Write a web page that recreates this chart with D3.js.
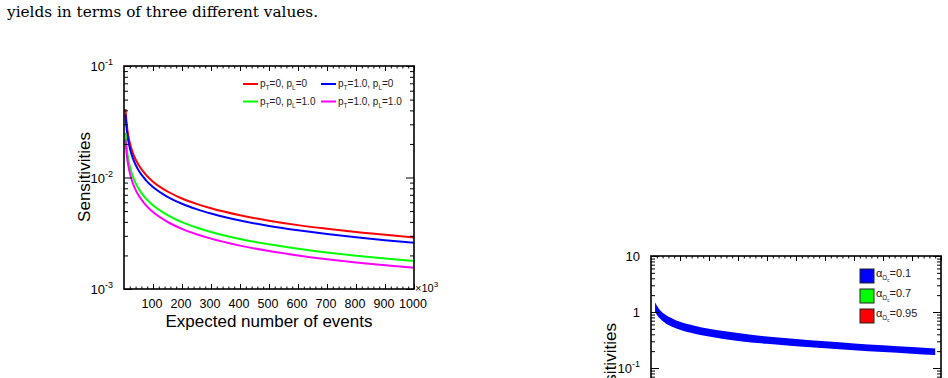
<!DOCTYPE html>
<html>
<head>
<meta charset="utf-8">
<script src="https://cdn.jsdelivr.net/npm/d3@7"></script>
<style>
  body { margin: 0; background: #fff; }
  svg { display: block; font-family: "Liberation Sans", Arial, sans-serif; }
</style>
</head>
<body>
<svg id="chart" width="948" height="378"></svg>
<script>
// expected number of events (in units of 10^3)
const events = [5, 10, 15, 20, 30, 40, 50, 75, 100, 150, 200, 250, 300, 400, 500, 600, 700, 800, 900, 1000];

// sensitivities
const sensT0L0 = [0.0410, 0.0290, 0.0237, 0.0205, 0.0167, 0.0145, 0.0130, 0.0106, 0.00917, 0.00749, 0.00648, 0.00580, 0.00529, 0.00458, 0.00410, 0.00374, 0.00347, 0.00324, 0.00306, 0.00290];
const sensT1L0 = [0.0368, 0.0260, 0.0212, 0.0184, 0.0150, 0.0130, 0.0116, 0.00949, 0.00822, 0.00671, 0.00581, 0.00520, 0.00475, 0.00411, 0.00368, 0.00336, 0.00311, 0.00291, 0.00274, 0.00260];
const sensT0L1 = [0.0252, 0.0178, 0.0145, 0.0126, 0.0103, 0.00890, 0.00796, 0.00650, 0.00563, 0.00460, 0.00398, 0.00356, 0.00325, 0.00281, 0.00252, 0.00230, 0.00213, 0.00199, 0.00188, 0.00178];
const sensT1L1 = [0.0219, 0.0155, 0.0127, 0.0110, 0.00895, 0.00775, 0.00693, 0.00566, 0.00490, 0.00400, 0.00346, 0.00310, 0.00283, 0.00245, 0.00219, 0.00200, 0.00185, 0.00173, 0.00163, 0.00155];

const seriesNames = [["0", "0"], ["1.0", "0"], ["0", "1.0"], ["1.0", "1.0"]];
const seriesColors = ["#ff0000", "#0000ff", "#00ff00", "#ff00ff"];

// right plot: band of the alpha = 0.1 case
const bandEvents = [14, 20, 30, 50, 75, 100, 150, 200, 300, 400, 500, 600, 700, 800, 900, 980];
const bandUpper = [1.50, 1.30, 1.10, 0.89, 0.76, 0.67, 0.57, 0.50, 0.42, 0.365, 0.33, 0.30, 0.275, 0.255, 0.237, 0.224];
const bandLower = [1.00, 0.89, 0.77, 0.63, 0.54, 0.48, 0.41, 0.365, 0.305, 0.27, 0.245, 0.225, 0.208, 0.193, 0.18, 0.17];

const alphaNames = ["0.1", "0.7", "0.95"];
const alphaColors = ["#0000ff", "#00ff00", "#ff0000"];

// tick values
const xMajor = d3.range(100, 1001, 100);
const xMinor = d3.range(20, 1000, 20).filter(v => v % 100 !== 0);
const xLabels = d3.range(100, 1001, 100);

const svg = d3.select("#chart");

// text line above the figures
svg.append("text")
    .attr("x", 7)
    .attr("y", 17)
    .attr("font-family", "'DejaVu Serif', 'Liberation Serif', serif")
    .attr("font-size", 14)
    .attr("textLength", 311)
    .attr("lengthAdjust", "spacingAndGlyphs")
    .text("yields in terms of three different values.");

function logMinors(lo, hi) {
    const out = [];
    for (let e = Math.log10(lo); e < Math.log10(hi); e++) {
        for (let k = 2; k <= 9; k++) out.push(k * Math.pow(10, e));
    }
    return out;
}

// draws a frame with inward ticks on all four sides
function drawFrame(g, x, y, yMajor, yMinor) {
    const [x0, x1] = x.range();
    const [y1, y0] = y.range();

    const axes = [
        [d3.axisBottom(x), `translate(0,${y1})`, xMajor, xMinor, 5, 2.5],
        [d3.axisTop(x), `translate(0,${y0})`, xMajor, xMinor, 5, 2.5],
        [d3.axisLeft(y), `translate(${x0},0)`, yMajor, yMinor, 8, 4],
        [d3.axisRight(y), `translate(${x1},0)`, yMajor, yMinor, 8, 4]
    ];

    axes.forEach(([axis, tr, major, minor, lenMaj, lenMin]) => {
        [[major, lenMaj], [minor, lenMin]].forEach(([vals, len]) => {
            g.append("g")
                .attr("transform", tr)
                .call(axis.tickValues(vals).tickSize(-len).tickSizeOuter(0).tickFormat(""))
                .call(s => s.select(".domain").remove())
                .selectAll("line").attr("stroke", "#000").attr("stroke-width", 1);
        });
    });

    g.append("rect")
        .attr("x", x0)
        .attr("y", y0)
        .attr("width", x1 - x0)
        .attr("height", y1 - y0)
        .attr("fill", "none")
        .attr("stroke", "#000")
        .attr("stroke-width", 1.6);
}

function powLabel(g, xPos, yPos, base, exp) {
    const t = g.append("text")
        .attr("x", xPos)
        .attr("y", yPos)
        .attr("text-anchor", "end")
        .attr("font-size", 13)
        .text(base);
    if (exp !== null) {
        t.append("tspan").attr("font-size", 9).attr("dy", -6).text(exp);
    }
}

/** LEFT PLOT */

const left = svg.append("g");

const xL = d3.scaleLinear().domain([0, 1000]).range([124, 414]);
const yL = d3.scaleLog().domain([1e-3, 1e-1]).range([289, 66]);

const seriesL = [sensT0L0, sensT1L0, sensT0L1, sensT1L1];

const lineL = d3.line()
    .x(d => xL(d[0]))
    .y(d => yL(d[1]))
    .curve(d3.curveMonotoneX);

left.selectAll("path.sens")
    .data(seriesL)
    .enter()
    .append("path")
    .attr("class", "sens")
    .attr("d", s => lineL(events.map((e, i) => [e, s[i]])))
    .attr("fill", "none")
    .attr("stroke", (d, i) => seriesColors[i])
    .attr("stroke-width", 2);

drawFrame(left, xL, yL, [1e-3, 1e-2, 1e-1], logMinors(1e-3, 1e-1));

// y tick labels
[[1e-1, "-1"], [1e-2, "-2"], [1e-3, "-3"]].forEach(([v, e]) => {
    powLabel(left, 113, yL(v) + 5, "10", e);
});

// x tick labels
left.selectAll("text.xlab")
    .data(xLabels)
    .enter()
    .append("text")
    .attr("class", "xlab")
    .attr("x", d => xL(d) - (d === 1000 ? 1 : 1))
    .attr("y", 308)
    .attr("text-anchor", "middle")
    .attr("font-size", 12.5)
    .text(d => d);

// x10^3 multiplier
const mult = left.append("text")
    .attr("x", 415)
    .attr("y", 292)
    .attr("font-size", 11)
    .text("\u00d710");
mult.append("tspan").attr("font-size", 8).attr("dy", -5).text("3");

left.append("text")
    .attr("x", 269)
    .attr("y", 327)
    .attr("text-anchor", "middle")
    .attr("font-size", 17)
    .text("Expected number of events");

left.append("text")
    .attr("transform", "translate(90,177) rotate(-90)")
    .attr("text-anchor", "middle")
    .attr("font-size", 17)
    .text("Sensitivities");

// legend
const legL = left.selectAll("g.leg")
    .data(seriesNames)
    .enter()
    .append("g")
    .attr("class", "leg")
    .attr("transform", (d, i) => `translate(${i % 2 === 0 ? 243 : 321},${i < 2 ? 84 : 101.5})`);

legL.append("line")
    .attr("x1", 0)
    .attr("x2", 15)
    .attr("stroke", (d, i) => seriesColors[i])
    .attr("stroke-width", 2);

legL.each(function (d) {
    const t = d3.select(this).append("text")
        .attr("x", 17)
        .attr("y", 3)
        .attr("font-size", 10)
        .attr("fill", "#222");
    t.append("tspan").text("p");
    t.append("tspan").attr("font-size", 6.5).attr("dy", 3).text("T");
    t.append("tspan").attr("dy", -3).text("=" + d[0] + ", p");
    t.append("tspan").attr("font-size", 6.5).attr("dy", 3).text("L");
    t.append("tspan").attr("dy", -3).text("=" + d[1]);
});

/** RIGHT PLOT (partly visible) */

const right = svg.append("g");

const xR = d3.scaleLinear().domain([0, 1000]).range([651, 941]);
const yR = d3.scaleLog().domain([1e-2, 10]).range([424, 256]);

const areaR = d3.area()
    .x(d => xR(d[0]))
    .y0(d => yR(d[2]))
    .y1(d => yR(d[1]))
    .curve(d3.curveMonotoneX);

right.append("path")
    .attr("d", areaR(bandEvents.map((e, i) => [e, bandUpper[i], bandLower[i]])))
    .attr("fill", "#0000ff");

drawFrame(right, xR, yR, [1e-2, 1e-1, 1, 10], logMinors(1e-2, 10));

powLabel(right, 640, yR(10) + 5, "10", null);
powLabel(right, 640, yR(1) + 5, "1", null);
powLabel(right, 640, yR(0.1) + 5, "10", "-1");

right.append("text")
    .attr("transform", "translate(616,368) rotate(-90)")
    .attr("text-anchor", "middle")
    .attr("font-size", 17)
    .text("Sensitivities");

const legR = right.selectAll("g.leg")
    .data(alphaNames)
    .enter()
    .append("g")
    .attr("class", "leg")
    .attr("transform", (d, i) => `translate(860,${269 + i * 20})`);

legR.append("rect")
    .attr("width", 14)
    .attr("height", 14)
    .attr("fill", (d, i) => alphaColors[i])
    .attr("stroke", "#222")
    .attr("stroke-width", 1);

legR.each(function (d) {
    const t = d3.select(this).append("text")
        .attr("x", 16)
        .attr("y", 8)
        .attr("font-size", 11)
        .attr("fill", "#222");
    t.append("tspan").text("\u03b1");
    t.append("tspan").attr("font-size", 6.5).attr("dy", 3).text("\u03a9");
    t.append("tspan").attr("font-size", 4.5).attr("dy", 1.5).text("c");
    t.append("tspan").attr("dy", -4.5).text("=" + d);
});
</script>
</body>
</html>
